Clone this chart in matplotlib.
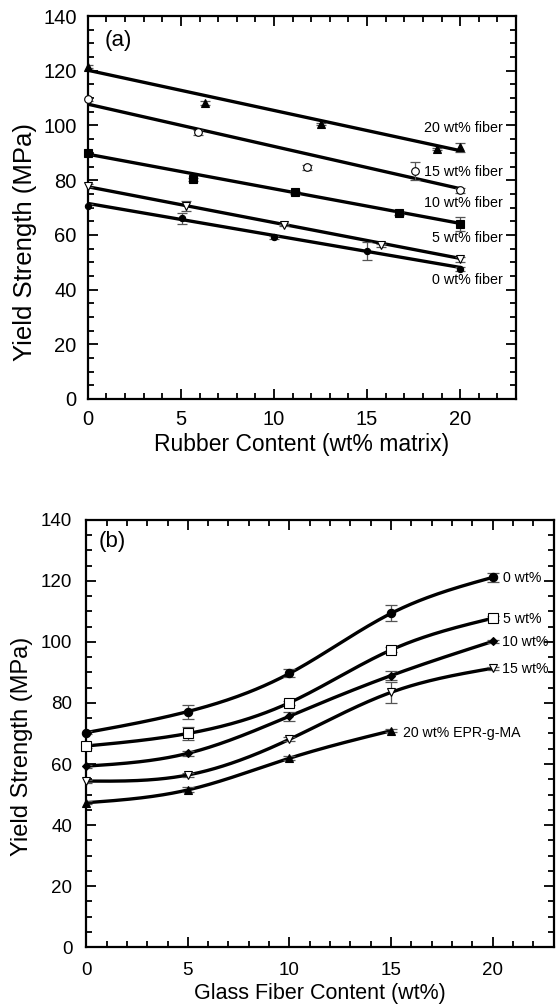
import numpy as np
import matplotlib
matplotlib.use("Agg")
import matplotlib.pyplot as plt
from matplotlib.ticker import MultipleLocator

plt.rcParams['font.family'] = ['Liberation Sans', 'DejaVu Sans']

# ---------------- Panel (a) data ----------------
a_labels = ["20 wt% fiber", "15 wt% fiber", "10 wt% fiber", "5 wt% fiber", "0 wt% fiber"]
a_x20 = [0, 6.3, 12.5, 18.75, 20]
a_y20 = [121.5, 108.2, 100.5, 91.4, 92.0]
a_e20 = [0.5, 0.8, 0.5, 0.5, 1.6]
a_x15 = [0, 5.93, 11.77, 17.6, 20]
a_y15 = [109.6, 97.5, 84.7, 83.4, 76.3]
a_e15 = [0.5, 0.8, 0.8, 3.3, 1.0]
a_x10 = [0, 5.63, 11.13, 16.69, 20]
a_y10 = [89.8, 80.3, 75.5, 67.9, 64.0]
a_e10 = [0.5, 0.6, 0.6, 0.6, 2.6]
a_x5 = [0, 5.27, 10.54, 15.75, 20]
a_y5 = [78.0, 70.5, 63.6, 56.2, 51.0]
a_e5 = [0.5, 1.8, 0.5, 0.5, 1.0]
a_x0 = [0, 5.04, 10, 15, 20]
a_y0 = [70.7, 66.0, 59.1, 54.1, 47.5]
a_e0 = [0.5, 2.1, 0.5, 3.2, 0.8]
# fitted lines (value at 0, value at 20)
a_fit0 = [120.2, 107.8, 89.5, 77.6, 71.5]
a_fit20 = [90.8, 76.9, 64.2, 51.4, 48.1]
a_label_y = [99.0, 83.1, 71.6, 58.7, 43.5]

# ---------------- Panel (b) data ----------------
b_labels = ["0 wt%", "5 wt%", "10 wt%", "15 wt%", "20 wt% EPR-g-MA"]
b_x = [0, 5, 10, 15, 20]
b_y0 = [70.3, 77.2, 89.7, 109.4, 121.2]
b_e0 = [0.6, 2.3, 1.3, 2.6, 1.4]
b_y5 = [65.9, 70.0, 80.1, 97.4, 107.8]
b_e5 = [0.5, 2.0, 0.6, 0.8, 0.6]
b_y10 = [59.3, 63.5, 75.7, 89.0, 100.2]
b_e10 = [0.5, 0.8, 1.5, 1.4, 0.5]
b_y15 = [54.4, 56.4, 68.1, 83.5, 91.4]
b_e15 = [0.5, 0.6, 0.6, 3.4, 0.5]
b_x20 = [0, 5, 10, 15]
b_y20 = [47.3, 51.5, 61.9, 70.9]
b_e20 = [0.5, 0.8, 0.6, 0.5]
b_label_x = [20.5, 20.5, 20.45, 20.45, 15.6]
b_label_y = [121.0, 107.5, 100.0, 91.2, 70.3]


def natural_spline(x, y, n=200):
    x = np.asarray(x, float)
    y = np.asarray(y, float)
    m = len(x)
    h = np.diff(x)
    A = np.zeros((m, m))
    r = np.zeros(m)
    A[0, 0] = A[-1, -1] = 1
    for i in range(1, m - 1):
        A[i, i - 1] = h[i - 1]
        A[i, i] = 2 * (h[i - 1] + h[i])
        A[i, i + 1] = h[i]
        r[i] = 3 * ((y[i + 1] - y[i]) / h[i] - (y[i] - y[i - 1]) / h[i - 1])
    c = np.linalg.solve(A, r)
    xs = np.linspace(x[0], x[-1], n)
    ys = np.empty_like(xs)
    for k, xv in enumerate(xs):
        i = min(np.searchsorted(x, xv, side='right') - 1, m - 2)
        dx = xv - x[i]
        b = (y[i + 1] - y[i]) / h[i] - h[i] * (2 * c[i] + c[i + 1]) / 3
        d = (c[i + 1] - c[i]) / (3 * h[i])
        ys[k] = y[i] + b * dx + c[i] * dx ** 2 + d * dx ** 3
    return xs, ys


def style_axes(ax, lsize, xpad, ypad):
    ax.set_xlim(0, 23)
    ax.set_ylim(0, 140)
    ax.xaxis.set_major_locator(MultipleLocator(5))
    ax.xaxis.set_minor_locator(MultipleLocator(1))
    ax.yaxis.set_major_locator(MultipleLocator(20))
    ax.yaxis.set_minor_locator(MultipleLocator(5))
    ax.set_xticks([0, 5, 10, 15, 20])
    ax.tick_params(which='both', direction='in', top=True, right=True,
                   width=1.3, labelsize=lsize, colors='black')
    ax.tick_params(which='major', length=7)
    ax.tick_params(which='minor', length=4)
    ax.tick_params(axis='x', which='major', pad=xpad)
    ax.tick_params(axis='y', which='major', pad=ypad)
    for s in ax.spines.values():
        s.set_linewidth(1.6)


fig = plt.figure(figsize=(5.56, 10.05), dpi=100)
ax1 = fig.add_axes([0.158, 0.603, 0.770, 0.381])
ax2 = fig.add_axes([0.155, 0.0577, 0.841, 0.4249])

# ---- panel (a)
series_a = [
    (a_x20, a_y20, a_e20, '^', 'black', 5.5),
    (a_x15, a_y15, a_e15, 'o', 'white', 5.5),
    (a_x10, a_y10, a_e10, 's', 'black', 5.5),
    (a_x5, a_y5, a_e5, 'v', 'white', 5.5),
    (a_x0, a_y0, a_e0, 'o', 'black', 4.5),
]
for i, (xs, ys, es, mk, fc, ms) in enumerate(series_a):
    ax1.plot([0, 20], [a_fit0[i], a_fit20[i]], color='black', lw=2.4, zorder=2)
    ax1.errorbar(xs, ys, yerr=es, fmt='none', ecolor='#555555', elinewidth=0.9,
                 capsize=3.5, capthick=0.9, zorder=3)
    ax1.plot(xs, ys, linestyle='none', marker=mk, markersize=ms,
             markerfacecolor=fc, markeredgecolor='black', markeredgewidth=0.8, zorder=4,
             clip_on=False)
    ax1.text(22.3, a_label_y[i], a_labels[i], ha='right', va='center', fontsize=10.3)
ax1.text(0.9, 131, "(a)", fontsize=16, ha='left', va='center')
style_axes(ax1, 14.5, 8, 8)
ax1.set_xlabel("Rubber Content (wt% matrix)", fontsize=16.5, labelpad=3)
ax1.set_ylabel("Yield Strength (MPa)", fontsize=18.5)
ax1.yaxis.set_label_coords(-0.118, 0.41)

# ---- panel (b)
series_b = [
    (b_x, b_y0, b_e0, 'o', 'black', 6),
    (b_x, b_y5, b_e5, 's', 'white', 6.5),
    (b_x, b_y10, b_e10, 'D', 'black', 4.5),
    (b_x, b_y15, b_e15, 'v', 'white', 6),
    (b_x20, b_y20, b_e20, '^', 'black', 6),
]
for i, (xs, ys, es, mk, fc, ms) in enumerate(series_b):
    sx, sy = natural_spline(xs, ys)
    ax2.plot(sx, sy, color='black', lw=2.4, zorder=2)
    ax2.errorbar(xs, ys, yerr=es, fmt='none', ecolor='#555555', elinewidth=0.9,
                 capsize=4, capthick=0.9, zorder=3)
    ax2.plot(xs, ys, linestyle='none', marker=mk, markersize=ms,
             markerfacecolor=fc, markeredgecolor='black', markeredgewidth=0.8, zorder=4,
             clip_on=False)
    ax2.text(b_label_x[i], b_label_y[i], b_labels[i], ha='left', va='center', fontsize=10.2)
ax2.text(0.6, 132.9, "(b)", fontsize=16, ha='left', va='center')
style_axes(ax2, 13.5, 10.5, 10)
ax2.set_xlabel("Glass Fiber Content (wt%)", fontsize=15.5, labelpad=3)
ax2.set_ylabel("Yield Strength (MPa)", fontsize=17)
ax2.yaxis.set_label_coords(-0.113, 0.47)

fig.savefig("out.png", dpi=100)
